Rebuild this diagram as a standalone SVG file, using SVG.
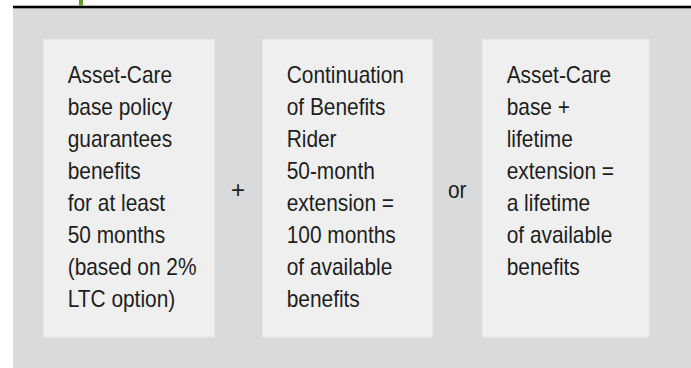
<svg xmlns="http://www.w3.org/2000/svg" width="691" height="368" viewBox="0 0 691 368">
<style>
.bg{fill:#d9dadb}
.box{fill:#efefef;stroke:#e7e7e7;stroke-width:1}
.t{font-family:"Liberation Sans",Arial,sans-serif;font-size:24px;fill:#1e1e1e}
</style>
<rect x="0" y="0" width="691" height="368" fill="#ffffff"/>
<rect class="bg" x="13" y="8" width="678" height="360"/>
<rect x="13" y="5.7" width="678" height="2.6" fill="#000000"/>
<rect x="79" y="0" width="4" height="5.7" fill="#6a9a2a"/>
<g id="node-base">
<rect class="box" x="43.5" y="39.5" width="171" height="297.5"/>
<g transform="translate(67.7,0) scale(0.87,1)">
<text class="t"><tspan x="0" y="83.3">Asset-Care</tspan><tspan x="0" y="115.2">base policy</tspan><tspan x="0" y="147.1">guarantees</tspan><tspan x="0" y="179">benefits</tspan><tspan x="0" y="210.9">for at least</tspan><tspan x="0" y="242.8">50 months</tspan><tspan x="0" y="274.7">(based on 2%</tspan><tspan x="0" y="306.6">LTC option)</tspan></text>
</g>
</g>
<g id="node-rider">
<rect class="box" x="262.5" y="39.5" width="170" height="297.5"/>
<g transform="translate(286.7,0) scale(0.87,1)">
<text class="t"><tspan x="0" y="83.3">Continuation</tspan><tspan x="0" y="115.2">of Benefits</tspan><tspan x="0" y="147.1">Rider</tspan><tspan x="0" y="179">50-month</tspan><tspan x="0" y="210.9">extension =</tspan><tspan x="0" y="242.8">100 months</tspan><tspan x="0" y="274.7">of available</tspan><tspan x="0" y="306.6">benefits</tspan></text>
</g>
</g>
<g id="node-lifetime">
<rect class="box" x="482.5" y="39.5" width="166.5" height="297.5"/>
<g transform="translate(506.7,0) scale(0.87,1)">
<text class="t"><tspan x="0" y="83.3">Asset-Care</tspan><tspan x="0" y="115.2">base +</tspan><tspan x="0" y="147.1">lifetime</tspan><tspan x="0" y="179">extension =</tspan><tspan x="0" y="210.9">a lifetime</tspan><tspan x="0" y="242.8">of available</tspan><tspan x="0" y="274.7">benefits</tspan></text>
</g>
</g>
<g id="connectors">
<text class="t" x="238" y="198" text-anchor="middle">+</text>
<g transform="translate(448,0) scale(0.87,1)"><text class="t" x="0" y="198">or</text></g>
</g>
</svg>
